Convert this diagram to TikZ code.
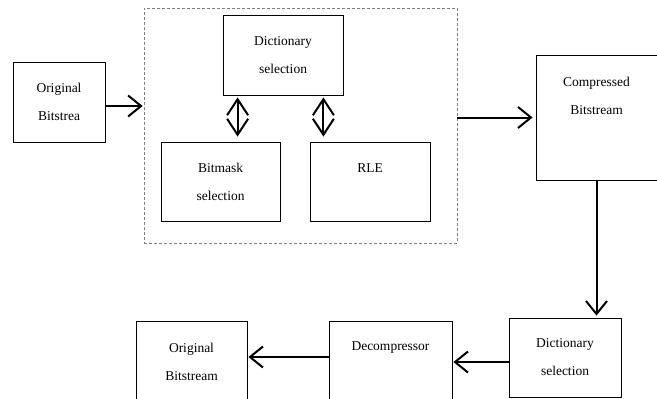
\documentclass[tikz,border=0pt]{standalone}
\usepackage{fontspec}
\setmainfont{Liberation Serif}
\usetikzlibrary{arrows.meta}

\begin{document}
\begin{tikzpicture}[x=1pt,y=-1pt,
  box/.style={draw,line width=.8pt,inner sep=0pt,align=center,font=\fontsize{13.5}{28}\selectfont},
  txt/.style={inner sep=0pt,align=center,font=\fontsize{13.5}{28}\selectfont},
  flow/.style={line width=2pt,-{Straight Barb[length=13pt,width=21pt]}},
  twoway/.style={line width=2pt,{Straight Barb[length=16pt,width=21pt]}-{Straight Barb[length=16pt,width=21pt]}}]
  \useasboundingbox (0,0) rectangle (657,399);
  \clip (0,0) rectangle (657,399);
  % compressor side
  \node[box,minimum width=92pt,minimum height=80pt] (obitsin) at (59,102) {Original\\Bitstrea};
  \node[draw,gray,densely dashed,line width=.6pt,minimum width=313pt,minimum height=235pt] (comp) at (300.5,125.5) {};
  \node[box,minimum width=120pt,minimum height=80pt] (dictsel) at (283,55) {Dictionary\\selection};
  \node[box,minimum width=119pt,minimum height=79pt] (bitmask) at (220.5,181.5) {Bitmask\\selection};
  \node[box,minimum width=120pt,minimum height=79pt] (rle) at (370,181.5) {};
  \node[txt] (rletxt) at (370,168) {RLE};
  \node[box,minimum width=121pt,minimum height=125pt] (cbits) at (596.5,117.5) {};
  \node[txt] (cbitstxt) at (596.5,96) {Compressed\\Bitstream};
  % decompressor side
  \node[box,minimum width=112pt,minimum height=79pt] (dsel) at (565,357.5) {Dictionary\\selection};
  \node[box,minimum width=123pt,minimum height=82pt] (decomp) at (390.5,362) {};
  \node[txt] (decomptxt) at (390.5,348) {Decompressor};
  \node[box,minimum width=111pt,minimum height=82pt] (obits) at (191.5,362) {Original\\Bitstream};

  \coordinate (lk) at ([xshift=15pt]dictsel.south west);
  \coordinate (rk) at ([xshift=-20pt]dictsel.south east);
  \coordinate (ink) at ([yshift=-4pt]obitsin.east);
  \coordinate (dk) at ([yshift=5pt]decomp.west);
  \draw[twoway,shorten <=2pt,shorten >=5pt] (lk) -- (lk |- bitmask.north);
  \draw[twoway,shorten <=2pt,shorten >=5pt] (rk) -- (rk |- rle.north);
  \draw[flow,shorten >=1pt] (ink) -- (ink -| comp.west);
  \draw[flow,shorten >=3pt] (cbits.west -| comp.east) -- (cbits.west);
  \draw[flow,shorten >=2pt] (cbits.south) -- (cbits.south |- dsel.north);
  \draw[flow,shorten >=1pt] (decomp.east -| dsel.west) -- (decomp.east);
  \draw[flow,shorten >=1pt] (dk) -- (dk -| obits.east);
\end{tikzpicture}
\end{document}
